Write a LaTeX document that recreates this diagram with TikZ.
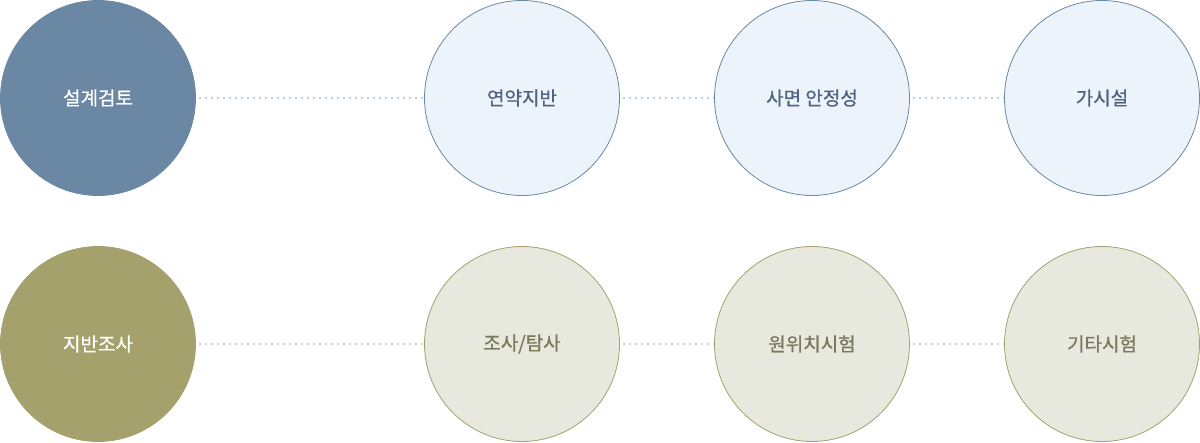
\documentclass[tikz,border=0pt]{standalone}
\usepackage{fontspec}
\newfontfamily\krfont[FakeBold=0.7]{Noto Sans CJK KR}
\definecolor{bluemain}{HTML}{6A87A3}
\definecolor{bluelight}{HTML}{EDF3FA}
\definecolor{bluetext}{HTML}{4F6480}
\definecolor{bluedot}{HTML}{B9CFE3}
\definecolor{olivemain}{HTML}{A4A16D}
\definecolor{olivelight}{HTML}{E8E9DE}
\definecolor{olivetext}{HTML}{7A795C}
\definecolor{olivedot}{HTML}{D5D7BD}
\begin{document}
\begin{tikzpicture}[x=1pt,y=1pt,font=\krfont\fontsize{19}{22}\selectfont,
	bubble/.style={circle,minimum size=195pt,inner sep=0pt,line width=0.8pt},
	headblue/.style={bubble,fill=bluemain,draw=bluemain,text=white},
	itemblue/.style={bubble,fill=bluelight,draw=bluemain,text=bluetext},
	headolive/.style={bubble,fill=olivemain,draw=olivemain,text=white},
	itemolive/.style={bubble,fill=olivelight,draw=olivemain,text=olivetext},
	dots/.style={line width=2pt,dash pattern=on 2pt off 4pt,shorten <=3pt,shorten >=1pt}]
	\useasboundingbox (0,0) rectangle (1200,442);
	% top row
	\node[headblue] (design) at (98,344) {설계검토};
	\node[itemblue] (soft) at (522,344) {연약지반};
	\node[itemblue] (slope) at (812,344) {사면 안정성};
	\node[itemblue] (temp) at (1102,344) {가시설};
	\draw[dots,bluedot] (design) -- (soft);
	\draw[dots,bluedot] (soft) -- (slope);
	\draw[dots,bluedot] (slope) -- (temp);
	% bottom row
	\node[headolive] (survey) at (98,98) {지반조사};
	\node[itemolive] (explore) at (522,98) {조사/탐사};
	\node[itemolive] (insitu) at (812,98) {원위치시험};
	\node[itemolive] (other) at (1102,98) {기타시험};
	\draw[dots,olivedot] (survey) -- (explore);
	\draw[dots,olivedot] (explore) -- (insitu);
	\draw[dots,olivedot] (insitu) -- (other);
\end{tikzpicture}
\end{document}
